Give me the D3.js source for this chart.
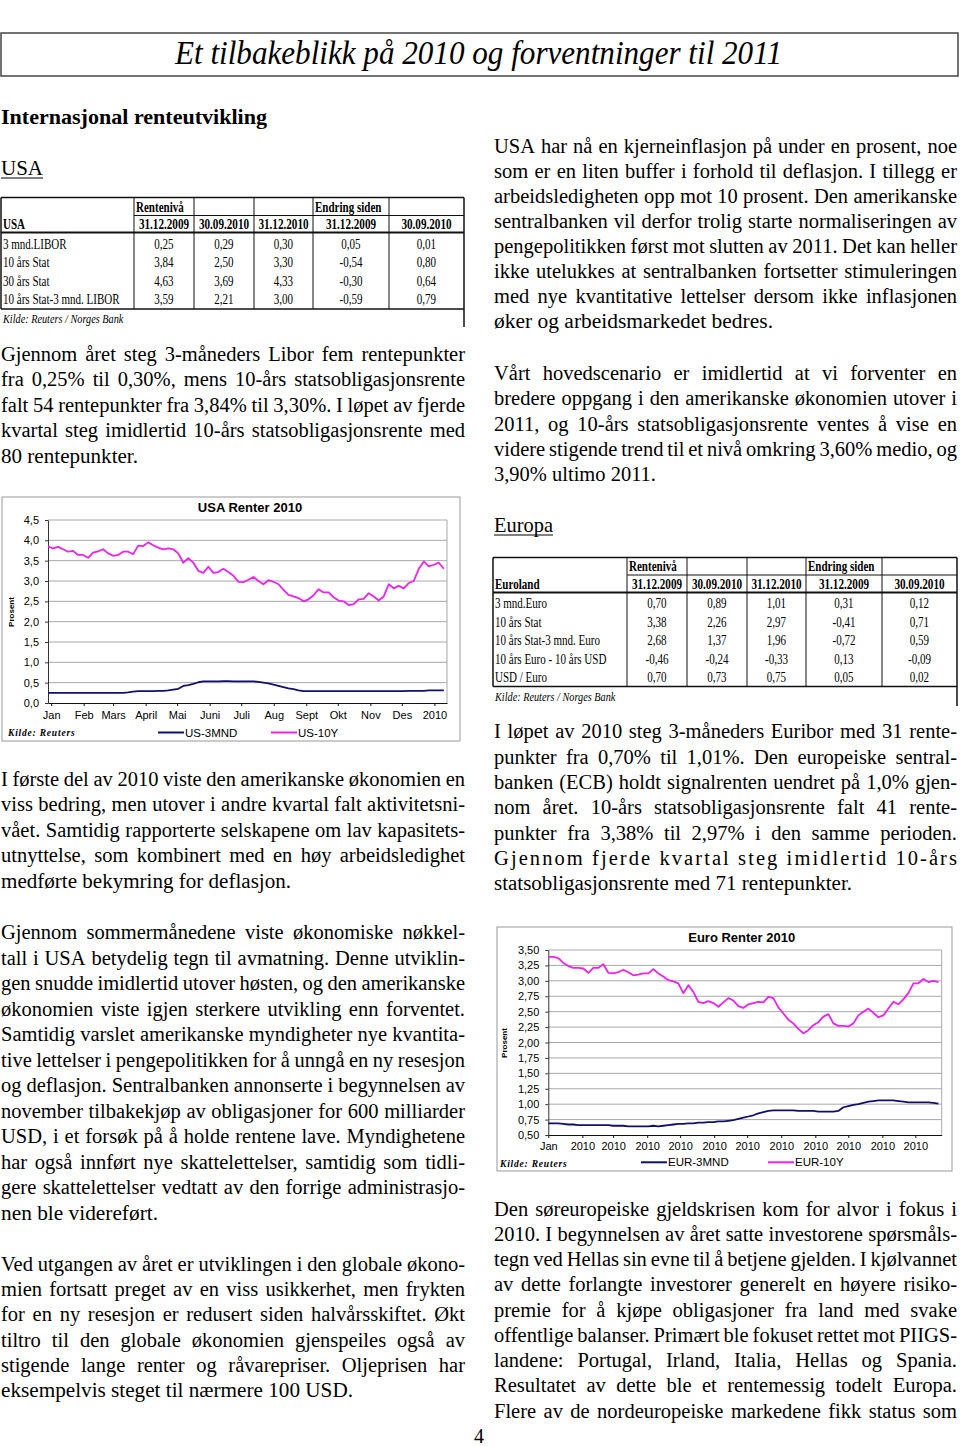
<!DOCTYPE html>
<html><head><meta charset="utf-8">
<script src="https://cdn.jsdelivr.net/npm/d3@7"></script>
<style>body{margin:0;background:#fff}svg{display:block}</style>
</head><body>
<script>
// ---------------- DATA ----------------
const usMonthLabels = ["Jan","Feb","Mars","April","Mai","Juni","Juli","Aug","Sept","Okt","Nov","Des","2010"];
const usYTicks = [0,0.5,1,1.5,2,2.5,3,3.5,4,4.5];
const us3MND = [0.25,0.25,0.25,0.25,0.25,0.25,0.25,0.25,0.25,0.25,
 0.25,0.25,0.25,0.25,0.25,0.25,0.26,0.28,0.29,0.29,
 0.29,0.29,0.30,0.30,0.31,0.33,0.35,0.42,0.44,0.47,
 0.51,0.53,0.53,0.53,0.53,0.54,0.54,0.53,0.53,0.53,
 0.53,0.53,0.52,0.50,0.48,0.45,0.42,0.39,0.36,0.34,
 0.31,0.29,0.29,0.29,0.29,0.29,0.29,0.29,0.29,0.29,
 0.29,0.29,0.29,0.29,0.29,0.29,0.29,0.29,0.29,0.29,
 0.29,0.29,0.30,0.30,0.30,0.30,0.31,0.31,0.31,0.31];
const us10Y = [3.85,3.80,3.84,3.78,3.72,3.74,3.64,3.64,3.57,3.70,
 3.73,3.78,3.68,3.62,3.64,3.72,3.72,3.66,3.87,3.86,
 3.95,3.88,3.82,3.78,3.80,3.78,3.68,3.45,3.56,3.45,
 3.25,3.20,3.35,3.20,3.22,3.30,3.22,3.13,2.98,2.97,
 3.03,3.10,3.00,2.92,3.02,2.98,2.92,2.78,2.66,2.62,
 2.58,2.50,2.55,2.65,2.80,2.72,2.72,2.60,2.52,2.50,
 2.41,2.43,2.55,2.56,2.70,2.62,2.52,2.62,2.92,2.82,
 2.88,2.82,2.95,3.00,3.30,3.48,3.36,3.40,3.45,3.30];
const usSeriesStart = new Date(2009,11,29), usSeriesEnd = new Date(2011,0,10);

const euroMonthLabels = ["Jan","2010","2010","2010","2010","2010","2010","2010","2010","2010","2010","2010"];
const euroYTicks = [0.5,0.75,1,1.25,1.5,1.75,2,2.25,2.5,2.75,3,3.25,3.5];
const eur3MND = [0.69,0.69,0.69,0.68,0.67,0.67,0.66,0.66,0.66,0.66,
 0.66,0.66,0.66,0.65,0.65,0.65,0.64,0.64,0.64,0.64,
 0.64,0.65,0.64,0.65,0.66,0.67,0.68,0.68,0.69,0.69,
 0.70,0.70,0.71,0.71,0.72,0.72,0.73,0.74,0.76,0.78,
 0.80,0.82,0.85,0.87,0.89,0.90,0.90,0.90,0.90,0.90,
 0.89,0.89,0.89,0.89,0.88,0.88,0.88,0.88,0.89,0.95,
 0.97,0.99,1.00,1.02,1.04,1.05,1.06,1.06,1.06,1.06,
 1.05,1.04,1.03,1.03,1.03,1.03,1.03,1.02,1.01];
const eur10Y = [3.39,3.39,3.37,3.29,3.24,3.21,3.21,3.20,3.13,3.21,
 3.21,3.27,3.13,3.12,3.14,3.18,3.14,3.09,3.10,3.12,
 3.12,3.19,3.12,3.07,3.01,2.99,2.96,2.80,2.93,2.82,
 2.66,2.64,2.67,2.64,2.58,2.65,2.72,2.68,2.59,2.56,
 2.62,2.64,2.66,2.65,2.74,2.72,2.57,2.47,2.37,2.31,
 2.22,2.15,2.20,2.28,2.33,2.42,2.46,2.31,2.27,2.27,
 2.26,2.31,2.44,2.50,2.55,2.48,2.41,2.44,2.55,2.66,
 2.62,2.70,2.80,2.96,2.96,3.03,2.98,3.00,2.98];
const eurSeriesStart = new Date(2010,0,1), eurSeriesEnd = new Date(2010,11,22);

const tableDates = ["31.12.2009","30.09.2010","31.12.2010","31.12.2009","30.09.2010"];
const usTableRows = ["3 mnd.LIBOR","10 års Stat","30 års Stat","10 års Stat-3 mnd. LIBOR"];
const usTableValues = [[0.25,0.29,0.30,0.05,0.01],[3.84,2.50,3.30,-0.54,0.80],[4.63,3.69,4.33,-0.30,0.64],[3.59,2.21,3.00,-0.59,0.79]];
const euTableRows = ["3 mnd.Euro","10 års Stat","10 års Stat-3 mnd. Euro","10 års Euro - 10 års USD","USD / Euro"];
const euTableValues = [[0.70,0.89,1.01,0.31,0.12],[3.38,2.26,2.97,-0.41,0.71],[2.68,1.37,1.96,-0.72,0.59],[-0.46,-0.24,-0.33,0.13,-0.09],[0.70,0.73,0.75,0.05,0.02]];

// ---------------- SETUP ----------------
const SERIF = "'Liberation Serif','Times New Roman',serif";
const SANS = "'Liberation Sans',Arial,sans-serif";
const BODY = 20.5;
const loc = d3.formatLocale({decimal:",",thousands:" ",grouping:[3],currency:["",""],minus:"-"});
const f2 = loc.format(".2f"), f1 = loc.format(".1f");
const svg = d3.select("body").append("svg").attr("width",960).attr("height",1446);

function compress(sel, factor){
  sel.each(function(){ const L=this.getComputedTextLength(); d3.select(this).attr("textLength",L*factor).attr("lengthAdjust","spacingAndGlyphs"); });
}

function justifyLine(x0, y, target, str, natural){
  const t = svg.append("text").attr("y",y).attr("font-family",SERIF).attr("font-size",BODY).attr("fill","#000");
  if (natural) {
    t.attr("x",x0).text(str).attr("textLength",target).attr("lengthAdjust","spacingAndGlyphs");
    return;
  }
  const words = str.split(" ");
  const spans = words.map(w => t.append("tspan").attr("x",x0).text(w));
  const widths = spans.map(s => s.node().getComputedTextLength());
  const sum = d3.sum(widths);
  const gap = words.length>1 ? (target-sum)/(words.length-1) : 0;
  if (words.length===1 || gap < 3 || gap > 16) {
    t.selectAll("tspan").remove();
    t.attr("x",x0).text(str).attr("textLength",target).attr("lengthAdjust", gap>16 ? "spacing" : "spacingAndGlyphs");
  } else {
    let x=x0; spans.forEach((s,i)=>{ s.attr("x",x); x += widths[i]+gap; });
  }
}
function para(lines, x0, width, y0, lh, lastWidth){
  lines.forEach((ln,i)=>{
    const last = i===lines.length-1 && lastWidth!=null;
    justifyLine(x0, y0+i*lh, last?lastWidth:width, ln, last);
  });
}

// ---------------- HEADER ----------------
svg.append("rect").attr("x",1).attr("y",33).attr("width",957).attr("height",43).attr("fill","none").attr("stroke","#444").attr("stroke-width",1.5);
svg.append("text").attr("x",175).attr("y",64).attr("font-family",SERIF).attr("font-style","italic").attr("font-size",33)
  .attr("textLength",607).attr("lengthAdjust","spacingAndGlyphs").text("Et tilbakeblikk på 2010 og forventninger til 2011");
svg.append("text").attr("x",1).attr("y",124).attr("font-family",SERIF).attr("font-weight","bold").attr("font-size",21)
  .attr("textLength",266).attr("lengthAdjust","spacingAndGlyphs").text("Internasjonal  renteutvikling");
function underlined(x,y,w,str){
  svg.append("text").attr("x",x).attr("y",y).attr("font-family",SERIF).attr("font-size",21).attr("textLength",w).attr("lengthAdjust","spacingAndGlyphs").text(str);
  svg.append("line").attr("x1",x).attr("x2",x+w).attr("y1",y+3).attr("y2",y+3).attr("stroke","#000").attr("stroke-width",1);
}
underlined(1,175,42,"USA");
underlined(494,532,59,"Europa");

// ---------------- TABLES ----------------
function table(o){
  const g = svg.append("g");
  const c = o.cols, L = (x1,y1,x2,y2,w)=>g.append("line").attr("x1",x1).attr("y1",y1).attr("x2",x2).attr("y2",y2).attr("stroke","#111").attr("stroke-width",w||1);
  L(c[0],o.top,c[6],o.top,1.5);
  L(c[1],o.hMid,c[6],o.hMid,1);
  L(c[0],o.hBot,c[6],o.hBot,2);
  L(c[0],o.bottom,c[6],o.bottom,1.5);
  L(c[0],o.top,c[0],o.bottom,1.5);
  for(let i=1;i<6;i++) L(c[i],o.top,c[i],o.bottom,1);
  L(c[6],o.top,c[6],o.rightExt,1.5);
  const T = (x,y,s,anchor,bold,italic,size)=>g.append("text").attr("x",x).attr("y",y).attr("text-anchor",anchor||"start")
     .attr("font-family",SERIF).attr("font-size",size||14.5).attr("font-weight",bold?"bold":null).attr("font-style",italic?"italic":null).text(s);
  const hdr = [T(c[1]+2,o.hMid-4,"Rentenivå","start",true), T(c[4]+2,o.hMid-4,"Endring siden","start",true), T(c[0]+2,o.hBot-4,o.title,"start",true)];
  hdr.forEach(h=>compress(h,0.76));
  tableDates.forEach((d,i)=>{ const t=T((c[i+1]+c[i+2])/2,o.hBot-4,d,"middle",true); compress(t,0.77); });
  o.rows.forEach((r,ri)=>{
    const y = o.row0 + ri*o.rowH;
    compress(T(c[0]+2,y,r),0.76);
    o.values[ri].forEach((v,ci)=>{ compress(T((c[ci+1]+c[ci+2])/2,y,f2(v),"middle"),0.76); });
  });
  compress(T(c[0]+2,o.kilde,"Kilde: Reuters / Norges Bank","start",false,true,12.5),0.82);
}
table({cols:[1,134,194,254,313,389,464],top:197.5,hMid:215.5,hBot:232.5,row0:248.5,rowH:18.6,bottom:309,kilde:323,rightExt:327,title:"USA",rows:usTableRows,values:usTableValues});
table({cols:[493,627,687,747,806,882,957],top:557.5,hMid:575,hBot:592.5,row0:608,rowH:18.5,bottom:686.5,kilde:701,rightExt:706,title:"Euroland",rows:euTableRows,values:euTableValues});

// ---------------- CHARTS ----------------
function chart(o){
  const g = svg.append("g");
  g.append("rect").attr("x",o.box[0]).attr("y",o.box[1]).attr("width",o.box[2]).attr("height",o.box[3]).attr("fill","#fff").attr("stroke","#aaa").attr("stroke-width",1.2);
  const x = d3.scaleTime().domain(o.xDomain).range([o.left,o.right]);
  const y = d3.scaleLinear().domain([o.yTicks[0],o.yTicks[o.yTicks.length-1]]).range([o.bottom,o.top]);
  g.selectAll("line.grid").data(o.yTicks.slice(1)).join("line").attr("class","grid")
    .attr("x1",o.left).attr("x2",o.right).attr("y1",d=>y(d)).attr("y2",d=>y(d)).attr("stroke","#a8a8a8").attr("stroke-width",1);
  g.append("line").attr("x1",o.right).attr("x2",o.right).attr("y1",o.top).attr("y2",o.bottom).attr("stroke","#a8a8a8");
  const ya = g.append("g").attr("transform",`translate(${o.left},0)`)
    .call(d3.axisLeft(y).tickValues(o.yTicks).tickFormat(o.fmt).tickSize(3).tickSizeOuter(0).tickPadding(6));
  ya.attr("font-family",SANS).attr("font-size",11);
  ya.selectAll("path,line").attr("stroke","#333");
  const xa = g.append("g").attr("transform",`translate(0,${o.bottom})`)
    .call(d3.axisBottom(x).tickValues(o.tickDates).tickFormat((d,i)=>o.xLabels[i]).tickSize(3).tickSizeOuter(0).tickPadding(o.xPad));
  xa.attr("font-family",SANS).attr("font-size",11);
  xa.selectAll("path,line").attr("stroke","#111");
  o.series.forEach(s=>{
    const t = d3.scaleLinear().domain([0,s.values.length-1]).range([+o.dataStart,+o.dataEnd]);
    g.append("path").datum(s.values).attr("fill","none").attr("stroke",s.color).attr("stroke-width",1.8).attr("stroke-linejoin","round")
      .attr("d", d3.line().x((d,i)=>x(new Date(t(i)))).y(d=>y(d)));
  });
  g.append("text").attr("x",o.titleX).attr("y",o.titleY).attr("text-anchor","middle").attr("font-family",SANS).attr("font-weight","bold").attr("font-size",13).text(o.title);
  g.append("text").attr("transform",`translate(${o.prosent[0]},${o.prosent[1]}) rotate(-90)`).attr("text-anchor","middle").attr("font-family",SANS).attr("font-weight","bold").attr("font-size",8).text("Prosent");
  g.append("text").attr("x",o.kilde[0]).attr("y",o.kilde[1]).attr("font-family",SERIF).attr("font-style","italic").attr("font-weight","bold").attr("font-size",9.5)
    .attr("letter-spacing",0.8).text("Kilde: Reuters");
  o.series.forEach((s,i)=>{
    const lx = o.legend[i];
    g.append("line").attr("x1",lx).attr("x2",lx+26).attr("y1",o.legendY).attr("y2",o.legendY).attr("stroke",s.color).attr("stroke-width",2);
    g.append("text").attr("x",lx+27).attr("y",o.legendY+4).attr("font-family",SANS).attr("font-size",11.5).text(s.name);
  });
}
chart({box:[2,497,458,244], left:48, right:447, top:520, bottom:703,
  xDomain:[new Date(2009,11,29), new Date(2011,0,13)],
  tickDates:d3.timeMonth.range(new Date(2010,0,1), new Date(2011,0,2)), xLabels:usMonthLabels, xPad:5,
  yTicks:usYTicks, fmt:f1, dataStart:usSeriesStart, dataEnd:usSeriesEnd,
  series:[{name:"US-3MND",values:us3MND,color:"#10106e"},{name:"US-10Y",values:us10Y,color:"#ee22ee"}],
  title:"USA Renter 2010", titleX:250, titleY:511.5, prosent:[14,612], kilde:[8,736], legend:[158,271], legendY:732.5});
chart({box:[497,927,455,244], left:548.3, right:941.7, top:950, bottom:1135,
  xDomain:[new Date(2010,0,1), new Date(2010,11,25)],
  tickDates:d3.timeMonth.range(new Date(2010,0,1), new Date(2010,11,2)), xLabels:euroMonthLabels, xPad:4,
  yTicks:euroYTicks, fmt:f2, dataStart:eurSeriesStart, dataEnd:eurSeriesEnd,
  series:[{name:"EUR-3MND",values:eur3MND,color:"#10106e"},{name:"EUR-10Y",values:eur10Y,color:"#ee22ee"}],
  title:"Euro Renter 2010", titleX:741.7, titleY:941.7, prosent:[507,1043], kilde:[500,1167], legend:[641,768], legendY:1162.3});

// ---------------- BODY TEXT ----------------
const LW = 464, RW = 463, LX = 1, RX = 494;
para(["Gjennom året steg 3-måneders Libor fem rentepunkter",
"fra 0,25% til 0,30%, mens 10-års statsobligasjonsrente",
"falt 54 rentepunkter fra 3,84% til 3,30%. I løpet av fjerde",
"kvartal steg imidlertid 10-års statsobligasjonsrente med",
"80 rentepunkter."], LX, LW, 361, 25.4, 137);
para(["I første del av 2010 viste den amerikanske økonomien en",
"viss bedring, men utover i andre kvartal falt aktivitetsni-",
"vået. Samtidig rapporterte selskapene om lav kapasitets-",
"utnyttelse, som kombinert med en høy arbeidsledighet",
"medførte bekymring for deflasjon."], LX, LW, 786, 25.4, 290);
para(["Gjennom sommermånedene viste økonomiske nøkkel-",
"tall i USA betydelig tegn til avmatning. Denne utviklin-",
"gen snudde imidlertid utover høsten, og den amerikanske",
"økonomien viste igjen sterkere utvikling enn forventet.",
"Samtidig varslet amerikanske myndigheter nye kvantita-",
"tive lettelser i pengepolitikken for å unngå en ny resesjon",
"og deflasjon. Sentralbanken annonserte i begynnelsen av",
"november tilbakekjøp av obligasjoner for 600 milliarder",
"USD, i et forsøk på å holde rentene lave. Myndighetene",
"har også innført nye skattelettelser, samtidig som tidli-",
"gere skattelettelser vedtatt av den forrige administrasjo-",
"nen ble videreført."], LX, LW, 939, 25.5, 157);
para(["Ved utgangen av året er utviklingen i den globale økono-",
"mien fortsatt preget av en viss usikkerhet, men frykten",
"for en ny resesjon er redusert siden halvårsskiftet. Økt",
"tiltro til den globale økonomien gjenspeiles også av",
"stigende lange renter og råvarepriser. Oljeprisen har",
"eksempelvis steget til nærmere 100 USD."], LX, LW, 1271, 25.2, 352);

para(["USA har nå en kjerneinflasjon på under en prosent, noe",
"som er en liten buffer i forhold til deflasjon. I tillegg er",
"arbeidsledigheten opp mot 10 prosent. Den amerikanske",
"sentralbanken vil derfor trolig starte normaliseringen av",
"pengepolitikken først mot slutten av 2011. Det kan heller",
"ikke utelukkes at sentralbanken fortsetter stimuleringen",
"med nye kvantitative lettelser dersom ikke inflasjonen",
"øker og arbeidsmarkedet bedres."], RX, RW, 152.7, 25, 279);
para(["Vårt hovedscenario er imidlertid at vi forventer en",
"bredere oppgang i den amerikanske økonomien utover i",
"2011, og 10-års statsobligasjonsrente ventes å vise en",
"videre stigende trend til et nivå omkring 3,60% medio, og",
"3,90% ultimo 2011."], RX, RW, 380, 25.3, 162);
para(["I løpet av 2010 steg 3-måneders Euribor med 31 rente-",
"punkter fra 0,70% til 1,01%. Den europeiske sentral-",
"banken (ECB) holdt signalrenten uendret på 1,0% gjen-",
"nom året. 10-års statsobligasjonsrente falt 41 rente-",
"punkter fra 3,38% til 2,97% i den samme perioden.",
"Gjennom fjerde kvartal steg imidlertid 10-års",
"statsobligasjonsrente med 71 rentepunkter."], RX, RW, 738.3, 25.3, 358);
para(["Den søreuropeiske gjeldskrisen kom for alvor i fokus i",
"2010. I begynnelsen av året satte investorene spørsmåls-",
"tegn ved Hellas sin evne til å betjene gjelden. I kjølvannet",
"av dette forlangte investorer generelt en høyere risiko-",
"premie for å kjøpe obligasjoner fra land med svake",
"offentlige balanser. Primært ble fokuset rettet mot PIIGS-",
"landene: Portugal, Irland, Italia, Hellas og Spania.",
"Resultatet av dette ble et rentemessig todelt Europa.",
"Flere av de nordeuropeiske markedene fikk status som"], RX, RW, 1215.7, 25.25);

svg.append("text").attr("x",479).attr("y",1443).attr("text-anchor","middle").attr("font-family",SERIF).attr("font-size",20).text("4");
</script>
</body></html>
